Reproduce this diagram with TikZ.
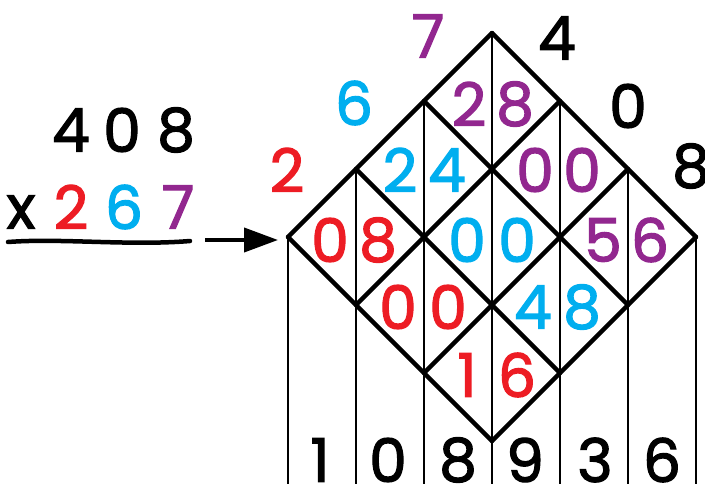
\documentclass[tikz,border=0pt]{standalone}
\usepackage{fontspec}
\newfontfamily\digfont{Poppins}[FakeBold=2]
\usetikzlibrary{arrows.meta,calc}
\definecolor{dred}{RGB}{237,28,36}
\definecolor{dblue}{RGB}{0,174,239}
\definecolor{dpurple}{RGB}{146,39,143}
\begin{document}
\begin{tikzpicture}[x=1pt,y=-1pt,
  dig/.style={inner sep=0pt, font=\digfont\fontsize{60}{60}\selectfont},
  gridline/.style={line width=4.4pt, line cap=round},
  thinline/.style={line width=1.6pt},
]
\useasboundingbox (0,0) rectangle (705,484);
% vertical lines
\foreach \x/\y in {288/237, 356/169, 424/101, 492/33, 560/101, 628/169, 696/237}
  \draw[thinline] (\x,\y) -- (\x,484);
% diamond lattice
\coordinate (L) at (288,237);
\coordinate (T) at (492,33);
\coordinate (R) at (696,237);
\coordinate (B) at (492,441);
\foreach \k in {0,1,2,3} {
  \draw[gridline] ($(L)!\k/3!(T)$) -- ($(B)!\k/3!(R)$);
  \draw[gridline] ($(L)!\k/3!(B)$) -- ($(T)!\k/3!(R)$);
}
% left multiplication
\node[dig] (m1) at (71,130) {4};
\node[dig] (m2) at (122,130) {0};
\node[dig] (m3) at (176,130) {8};
\node[dig] (mx) at (21,212) {x};
\node[dig, text=dred] (n1) at (71,207) {2};
\node[dig, text=dblue] (n2) at (124,207) {6};
\node[dig, text=dpurple] (n3) at (178,207) {7};
\coordinate (u1) at (8,242);
\coordinate (u2) at (190,241);
\draw[line width=4.5pt, line cap=round] (u1) .. controls (60,238) and (130,246) .. (u2);
\coordinate (a1) at (205,240);
\coordinate (a2) at (278,240);
\draw[line width=4pt, -{Triangle[length=34pt,width=24pt]}] (a1) -- (a2);
% factors around the lattice
\node[dig, text=dred] (l1) at (287,170) {2};
\node[dig, text=dblue] (l2) at (354,103) {6};
\node[dig, text=dpurple] (l3) at (428,36) {7};
\node[dig] (t1) at (557,38) {4};
\node[dig] (t2) at (628,106) {0};
\node[dig] (t3) at (691,166) {8};
% cell products
\node[dig, text=dpurple] (p1a) at (469,104) {2};
\node[dig, text=dpurple] (p1b) at (515,104) {8};
\node[dig, text=dblue] (p2a) at (400,170) {2};
\node[dig, text=dblue] (p2b) at (447,170) {4};
\node[dig, text=dpurple] (p3a) at (535,170) {0};
\node[dig, text=dpurple] (p3b) at (582,170) {0};
\node[dig, text=dred] (p4a) at (330,240) {0};
\node[dig, text=dred] (p4b) at (378,240) {8};
\node[dig, text=dblue] (p5a) at (467,240) {0};
\node[dig, text=dblue] (p5b) at (517,240) {0};
\node[dig, text=dpurple] (p6a) at (603,240) {5};
\node[dig, text=dpurple] (p6b) at (650,240) {6};
\node[dig, text=dred] (p7a) at (398,307) {0};
\node[dig, text=dred] (p7b) at (448,307) {0};
\node[dig, text=dblue] (p8a) at (533,307) {4};
\node[dig, text=dblue] (p8b) at (582,307) {8};
\node[dig, text=dred] (p9a) at (467,375) {1};
\node[dig, text=dred] (p9b) at (517,375) {6};
% result
\node[dig] (r1) at (320,460) {1};
\node[dig] (r2) at (388,460) {0};
\node[dig] (r3) at (458,460) {8};
\node[dig] (r4) at (525,460) {9};
\node[dig] (r5) at (595,460) {3};
\node[dig] (r6) at (662,460) {6};
\end{tikzpicture}
\end{document}
